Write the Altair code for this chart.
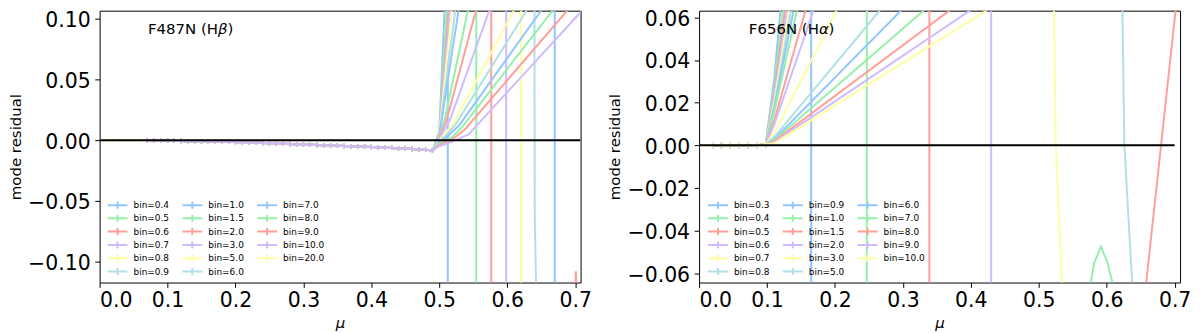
import altair as alt
import pandas as pd

PASTEL = ["#92C6FF", "#97F0AA", "#FF9F9A", "#D0BBFF", "#FFFEA3", "#B0E0E6"]

X_TICKS = [0.0, 0.1, 0.2, 0.3, 0.4, 0.5, 0.6, 0.7]

# ---------------- F487N (H beta) ----------------
HB_BINS = ["0.4", "0.5", "0.6", "0.7", "0.8", "0.9", "1.0", "1.5", "2.0",
           "3.0", "5.0", "6.0", "7.0", "8.0", "9.0", "10.0", "20.0"]
HB_Y_TICKS = [-0.10, -0.05, 0.00, 0.05, 0.10]

HB_FLAT_MU = [0.07, 0.08, 0.09, 0.10, 0.11, 0.12, 0.13, 0.14, 0.15, 0.16,
              0.17, 0.18, 0.19, 0.20, 0.21, 0.22, 0.23, 0.24, 0.25, 0.26,
              0.27, 0.28, 0.29, 0.30, 0.31, 0.32, 0.33, 0.34, 0.35, 0.36,
              0.37, 0.38, 0.39, 0.40, 0.41, 0.42, 0.43, 0.44, 0.45, 0.46,
              0.47, 0.48, 0.49]
HB_FLAT_V = [-0.0002, -0.0003, -0.0004, -0.0005, -0.0006, -0.0007, -0.0008,
             -0.0009, -0.0010, -0.0011, -0.0012, -0.0013, -0.0014, -0.0016,
             -0.0018, -0.0020, -0.0022, -0.0024, -0.0026, -0.0028, -0.0030,
             -0.0032, -0.0034, -0.0036, -0.0038, -0.0040, -0.0042, -0.0044,
             -0.0046, -0.0048, -0.0050, -0.0052, -0.0054, -0.0056, -0.0058,
             -0.0061, -0.0064, -0.0067, -0.0070, -0.0073, -0.0076, -0.0080,
             -0.0085]

HB_TAIL_MU = {
    "0.4": [0.50, 0.5112, 0.5125, 0.5125, 0.708],
    "0.5": [0.50, 0.5154, 0.5545, 0.5545, 0.708],
    "0.6": [0.50, 0.5196, 0.5765, 0.5765, 0.699, 0.701, 0.7035],
    "0.7": [0.50, 0.5223, 0.5985, 0.5985, 0.708],
    "0.8": [0.50, 0.5265, 0.6205, 0.6205, 0.708],
    "0.9": [0.50, 0.5334, 0.640, 0.6405, 0.6435, 0.708],
    "1.0": [0.50, 0.5403, 0.670, 0.670, 0.708],
    "1.5": [0.50, 0.508, 0.5586],
    "2.0": [0.50, 0.511, 0.5746],
    "3.0": [0.50, 0.516, 0.6013],
    "5.0": [0.50, 0.51, 0.521, 0.6513],
    "6.0": [0.50, 0.51, 0.524, 0.6767],
    "7.0": [0.50, 0.51, 0.529, 0.7054],
    "8.0": [0.50, 0.52, 0.533, 0.727],
    "9.0": [0.50, 0.52, 0.538, 0.755],
    "10.0": [0.50, 0.52, 0.543, 0.707, 0.72],
}
HB_TAIL_V = {
    "0.4": [0.007, 0.15, 0.15, -0.15, -0.15],
    "0.5": [0.006, 0.15, 0.15, -0.15, -0.15],
    "0.6": [0.006, 0.15, 0.15, -0.15, -0.15, -0.108, -0.15],
    "0.7": [0.005, 0.15, 0.15, -0.15, -0.15],
    "0.8": [0.005, 0.15, 0.15, -0.15, -0.15],
    "0.9": [0.004, 0.15, 0.15, -0.06, -0.15, -0.15],
    "1.0": [0.004, 0.15, 0.15, -0.15, -0.15],
    "1.5": [0.003, 0.017, 0.15],
    "2.0": [0.002, 0.017, 0.15],
    "3.0": [0.001, 0.017, 0.15],
    "5.0": [0.000, 0.006, 0.014, 0.15],
    "6.0": [-0.001, 0.004, 0.013, 0.15],
    "7.0": [-0.002, 0.002, 0.012, 0.15],
    "8.0": [-0.003, 0.003, 0.0104, 0.15],
    "9.0": [-0.004, 0.001, 0.009, 0.15],
    "10.0": [-0.005, -0.001, 0.0047, 0.1047, 0.113],
}
# series drawn only at small mu
HB_OWN_MU = {"20.0": [0.01, 0.02, 0.03, 0.04, 0.05, 0.06]}
HB_OWN_V = {"20.0": [0.0, 0.0, 0.0, 0.0, 0.0, 0.0]}

# ---------------- F656N (H alpha) ----------------
HA_BINS = ["0.3", "0.4", "0.5", "0.6", "0.7", "0.8", "0.9", "1.0", "1.5",
           "2.0", "3.0", "5.0", "6.0", "7.0", "8.0", "9.0", "10.0"]
HA_Y_TICKS = [-0.06, -0.04, -0.02, 0.00, 0.02, 0.04, 0.06]

HA_FLAT_MU = [0.020, 0.033, 0.046, 0.059, 0.072, 0.085, 0.098]
HA_FLAT_V = [0.0, 0.0, 0.0, 0.0, 0.0, 0.0, 0.0005]

HA_TAIL_MU = {
    "0.3": [0.111, 0.127, 0.165, 0.165, 0.708],
    "0.4": [0.111, 0.133, 0.247, 0.247, 0.570, 0.5766, 0.5814, 0.5916,
            0.6009, 0.6082, 0.612, 0.708],
    "0.5": [0.111, 0.1372, 0.339, 0.339, 0.65, 0.68, 0.71],
    "0.6": [0.111, 0.1415, 0.430, 0.430, 0.708],
    "0.7": [0.111, 0.1457, 0.5215, 0.525, 0.534, 0.536, 0.708],
    "0.8": [0.111, 0.1498, 0.622, 0.626, 0.6375, 0.640, 0.708],
    "0.9": [0.111, 0.1557],
    "1.0": [0.111, 0.1627],
    "1.5": [0.111, 0.1806],
    "2.0": [0.111, 0.1973],
    "3.0": [0.111, 0.2455],
    "5.0": [0.111, 0.3362],
    "6.0": [0.111, 0.3803],
    "7.0": [0.111, 0.4277],
    "8.0": [0.111, 0.4815],
    "9.0": [0.111, 0.524],
    "10.0": [0.111, 0.558],
}
HA_TAIL_V = {
    "0.3": [0.032, 0.09, 0.09, -0.09, -0.09],
    "0.4": [0.028, 0.09, 0.09, -0.09, -0.09, -0.064, -0.0553, -0.0476,
            -0.0546, -0.0639, -0.09, -0.09],
    "0.5": [0.025, 0.09, 0.09, -0.09, -0.0885, 0.0, 0.0885],
    "0.6": [0.023, 0.09, 0.09, -0.09, -0.09],
    "0.7": [0.021, 0.09, 0.09, 0.0, -0.0643, -0.09, -0.09],
    "0.8": [0.019, 0.09, 0.09, 0.0, -0.0645, -0.09, -0.09],
    "0.9": [0.018, 0.09],
    "1.0": [0.016, 0.09],
    "1.5": [0.012, 0.09],
    "2.0": [0.010, 0.09],
    "3.0": [0.006, 0.09],
    "5.0": [0.004, 0.09],
    "6.0": [0.003, 0.09],
    "7.0": [0.0025, 0.09],
    "8.0": [0.002, 0.09],
    "9.0": [0.0015, 0.09],
    "10.0": [0.001, 0.09],
}

HB_ERR = 0.0018
HA_ERR = 0.0014


def build_rows(bins, flat_mu, flat_v, tail_mu, tail_v, own_mu, own_v, err):
    rows = []
    for k, b in enumerate(bins):
        if b in own_mu:
            mus = list(own_mu[b])
            vs = list(own_v[b])
            ebs = [1] * len(mus)
        else:
            mus = list(flat_mu) + list(tail_mu[b])
            vs = list(flat_v) + list(tail_v[b])
            ebs = [1] * len(flat_mu) + [0] * len(tail_mu[b])
        for j, (m, v, e) in enumerate(zip(mus, vs, ebs)):
            rows.append({"k": k, "series": "bin=" + b, "j": j, "mu": m,
                         "v": v, "eb": e, "lo": v - err, "hi": v + err})
    return pd.DataFrame(rows)


def panel(df, bins, ydom, yticks, name, greek, legend_x, legend_y, zero_end, text_x):
    dom = ["bin=" + b for b in bins]
    rng = [PASTEL[i % 6] for i in range(len(bins))]
    color = alt.Color(
        "series:N",
        scale=alt.Scale(domain=dom, range=rng),
        legend=alt.Legend(
            title=None, orient="none", legendX=legend_x, legendY=legend_y,
            columns=3, symbolType="M-3.33,0H3.33M0,-1.17V1.17", symbolSize=36,
            symbolStrokeWidth=2, labelFontSize=9, labelFont="DejaVu Sans",
            labelColor="black", rowPadding=-3.6, columnPadding=8.1,
            labelOffset=11.5, symbolOffset=0, padding=0),
    )
    x = alt.X("mu:Q", scale=alt.Scale(domain=[0, 0.708], nice=False, zero=False),
              axis=alt.Axis(values=X_TICKS, format=".1f", title="μ"))
    y = alt.Y("v:Q", scale=alt.Scale(domain=ydom, nice=False, zero=False),
              axis=alt.Axis(values=yticks, format=".2f", title="mode residual"))
    base = alt.Chart(df)
    lines = base.mark_line(strokeWidth=2, clip=True).encode(
        x=x, y=y, color=color, detail="k:N", order="j:Q")
    bars = base.transform_filter("datum.eb == 1").mark_rule(
        strokeWidth=1.3, clip=True).encode(
        x="mu:Q", y="lo:Q", y2="hi:Q", color=color, detail="k:N")
    zero = alt.Chart(pd.DataFrame({"z": [0.0], "m0": [0.0], "m1": [zero_end]})).mark_rule(
        color="black", strokeWidth=2, clip=True).encode(y="z:Q", x="m0:Q", x2="m1:Q")
    t1 = alt.Chart(pd.DataFrame({"t": [name + " (H"]})).mark_text(
        align="left", baseline="alphabetic", fontSize=15, font="DejaVu Sans",
        color="black").encode(text="t:N", x=alt.value(text_x), y=alt.value(23))
    t2 = alt.Chart(pd.DataFrame({"t": [greek]})).mark_text(
        align="left", baseline="alphabetic", fontSize=15, font="DejaVu Sans",
        fontStyle="italic", color="black").encode(
        text="t:N", x=alt.value(text_x + 70.4), y=alt.value(23))
    t3 = alt.Chart(pd.DataFrame({"t": [")"]})).mark_text(
        align="left", baseline="alphabetic", fontSize=15, font="DejaVu Sans",
        color="black").encode(
        text="t:N", x=alt.value(text_x + 80.0), y=alt.value(23))
    return alt.layer(lines, bars, zero, t1, t2, t3).properties(width=483, height=273)


hb_df = build_rows(HB_BINS, HB_FLAT_MU, HB_FLAT_V, HB_TAIL_MU, HB_TAIL_V,
                   HB_OWN_MU, HB_OWN_V, HB_ERR)
ha_df = build_rows(HA_BINS, HA_FLAT_MU, HA_FLAT_V, HA_TAIL_MU, HA_TAIL_V,
                   {}, {}, HA_ERR)

left = panel(hb_df, HB_BINS, [-0.1172, 0.1066], HB_Y_TICKS, "F487N", "β",
             13.5, 190.5, 0.708, 48.5)
right = panel(ha_df, HA_BINS, [-0.0643, 0.0631], HA_Y_TICKS, "F656N", "α",
              14.5, 190.5, 0.7, 50.0)

chart = alt.hconcat(left, right, spacing=119, bounds="flush").resolve_scale(
    color="independent", x="independent", y="independent"
).resolve_legend(color="independent").properties(
    padding=0
).configure(font="DejaVu Sans").configure_view(
    stroke="black", strokeWidth=1
).configure_axis(
    labelFont="DejaVu Sans", labelFontSize=20.5, labelColor="black",
    tickColor="black", tickSize=4.9, tickWidth=1, domain=False, grid=False,
    titleFont="DejaVu Sans", titleFontSize=15, titleColor="black",
    titleFontWeight="normal"
).configure_axisX(
    labelPadding=3.35, titlePadding=4.25, titleFontStyle="italic"
).configure_axisY(
    labelPadding=4.6, minExtent=72.5, maxExtent=72.5, titlePadding=4,
    labelBaseline="alphabetic", labelOffset=8
)

chart.save("out.html", embed_options={"renderer": "svg", "actions": False})
